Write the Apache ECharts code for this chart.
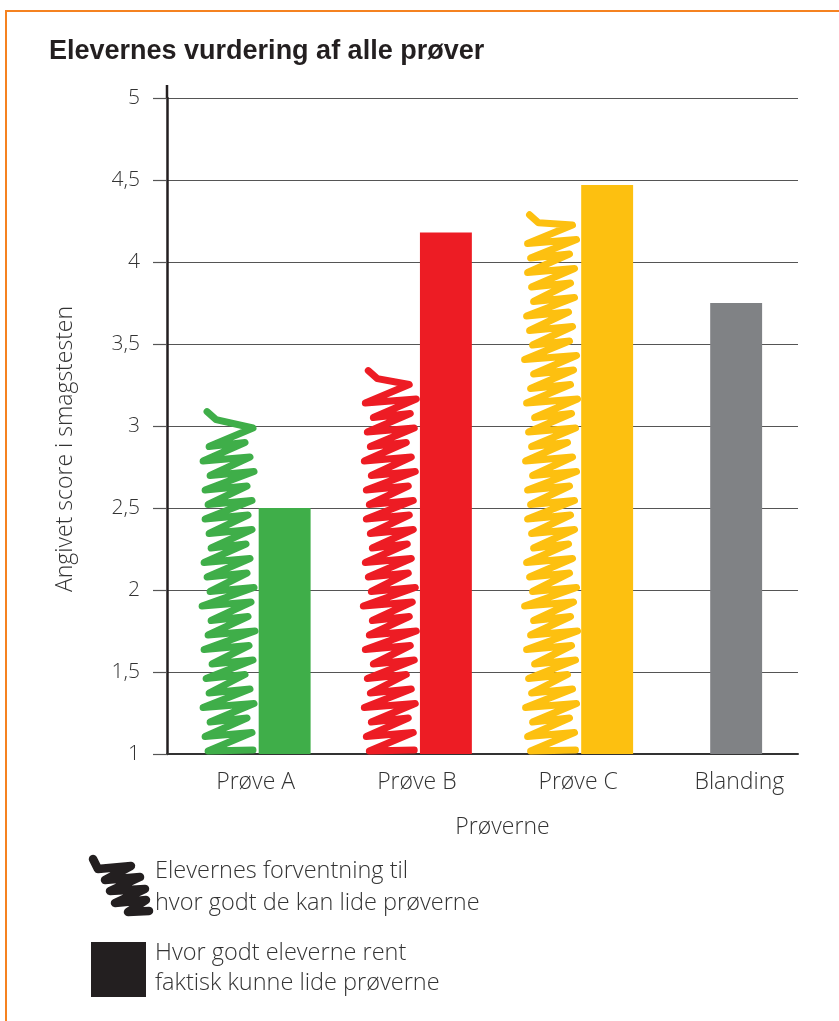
<!DOCTYPE html>
<html>
<head>
<meta charset="utf-8">
<script src="https://cdn.jsdelivr.net/npm/echarts@6/dist/echarts.min.js"></script>
<style>
  html, body { margin: 0; padding: 0; background: #ffffff; }
  #chart { width: 839px; height: 1021px; }
</style>
</head>
<body>
<div id="chart"></div>
<script>
// Categories and scores (scale 1–5)
const categories = ['Prøve A', 'Prøve B', 'Prøve C', 'Blanding'];
const expected = [3.1, 3.35, 4.3, null];      // elevernes forventning
const actual = [2.5, 4.18, 4.47, 3.75];       // faktisk vurdering
const yTickLabels = ['1', '1,5', '2', '2,5', '3', '3,5', '4', '4,5', '5'];

const barColors = ['#3fae49', '#ed1c24', '#fdc010', '#808285'];
const ink = '#231f20';
const textColor = '#333333';
const fontFamily = '"Open Sans", "Noto Sans", sans-serif';

// Small fixed wobble offsets that make the zigzag look hand drawn
const wobbleLeft = [0, -3, 2, -5, 1, -2, 4, -4, 0, 3, -6, 2, -1, -4, 3, 1, -3];
const wobbleRight = [2, -3, 4, 0, -5, 3, -1, 5, -2, 1, 4, -3, 0, -4, 2, -2];

const chart = echarts.init(document.getElementById('chart'));

function actualBar(params, api) {
  const i = api.value(0);
  const v = api.value(1);
  const band = api.size([1, 0])[0];
  const top = api.coord([i, v]);
  const base = api.coord([i, 1]);
  const w = band * 0.322;
  const cx = top[0] + (expected[i] != null ? band * 0.18 : -band * 0.02);
  return {
    type: 'rect',
    shape: { x: cx - w / 2, y: top[1], width: w, height: base[1] - top[1] },
    style: { fill: barColors[i] }
  };
}

// Z-shaped zigzag: near-flat strokes joined by diagonals, from the baseline up to the value
function scribble(params, api) {
  const i = api.value(0);
  const v = api.value(1);
  const band = api.size([1, 0])[0];
  const top = api.coord([i, v]);
  const base = api.coord([i, 1]);
  const cx = top[0] - band * 0.165;
  const half = band * 0.13;
  const step = 14.5;
  const tilt = 4;
  const pts = [];
  pts.push([cx + half + 3, base[1] - 4]);
  let y = base[1] - 3;
  let k = 0;
  while (y - step - tilt > top[1] + 10) {
    pts.push([cx - half + wobbleLeft[k % wobbleLeft.length], y]);
    pts.push([cx + half + wobbleRight[k % wobbleRight.length], y - step - tilt]);
    y -= step;
    k++;
  }
  // hook at the top
  pts.push([cx - half + 8, top[1] + 10]);
  pts.push([cx - half - 1, top[1] + 2]);
  return {
    type: 'polyline',
    shape: { points: pts },
    style: {
      stroke: barColors[i],
      fill: null,
      lineWidth: 7,
      lineCap: 'round',
      lineJoin: 'round'
    }
  };
}

const option = {
  animation: false,
  backgroundColor: '#ffffff',
  title: {
    text: 'Elevernes vurdering af alle prøver',
    left: 44,
    top: 33,
    textStyle: {
      fontFamily: '"Liberation Sans Narrow", "Liberation Sans", sans-serif',
      fontWeight: 'bold',
      fontSize: 27,
      color: ink
    }
  },
  grid: [
    { left: 167, right: 41, top: 98, bottom: 267 },
    { left: 175, right: 19, top: 98, bottom: 267 }
  ],
  xAxis: [
    {
      type: 'category',
      gridIndex: 0,
      data: categories,
      axisLine: { show: true, lineStyle: { color: '#333333', width: 2 } },
      axisTick: { show: false },
      axisLabel: { show: false },
      splitLine: { show: false }
    },
    {
      type: 'category',
      gridIndex: 1,
      data: categories,
      axisLine: { show: false },
      axisTick: { show: false },
      axisLabel: {
        margin: 17,
        fontFamily: fontFamily, fontWeight: 300, fontSize: 23, color: textColor
      },
      splitLine: { show: false },
      name: 'Prøverne',
      nameLocation: 'middle',
      nameGap: 62,
      nameTextStyle: {
        fontFamily: fontFamily, fontWeight: 300, fontSize: 23, color: textColor,
        padding: [0, 0, 0, 10]
      }
    }
  ],
  yAxis: [
    {
      type: 'value',
      gridIndex: 0,
      min: 1,
      max: 5,
      interval: 0.5,
      axisLine: { show: true, lineStyle: { color: ink, width: 2.5 } },
      axisTick: { show: true, inside: false, length: 14, lineStyle: { color: '#555555', width: 1.2 } },
      splitLine: { show: true, lineStyle: { color: '#555555', width: 1.2 } },
      axisLabel: {
        margin: 27,
        fontFamily: fontFamily, fontWeight: 300, fontSize: 21, color: textColor,
        formatter: function (val) { return yTickLabels[Math.round((val - 1) * 2)]; }
      }
    },
    {
      type: 'value',
      gridIndex: 1,
      min: 1,
      max: 5,
      show: false
    }
  ],
  series: [
    {
      name: 'Elevernes forventning til hvor godt de kan lide prøverne',
      type: 'custom',
      xAxisIndex: 1,
      yAxisIndex: 1,
      renderItem: scribble,
      data: expected.map((v, i) => [i, v]).filter(d => d[1] != null),
      z: 3
    },
    {
      name: 'Hvor godt eleverne rent faktisk kunne lide prøverne',
      type: 'custom',
      xAxisIndex: 1,
      yAxisIndex: 1,
      renderItem: actualBar,
      data: actual.map((v, i) => [i, v]),
      z: 2
    }
  ],
  graphic: [
    // orange frame
    {
      type: 'rect',
      shape: { x: 6, y: 11, width: 900, height: 1100 },
      style: { fill: null, stroke: '#f58220', lineWidth: 2 },
      silent: true
    },
    // axis line overshoot above the top tick
    {
      type: 'line',
      shape: { x1: 167, y1: 85, x2: 167, y2: 98 },
      style: { stroke: ink, lineWidth: 2.5 }
    },
    // y axis title
    {
      type: 'text',
      x: 65,
      y: 449,
      rotation: Math.PI / 2,
      style: {
        text: 'Angivet score i smagstesten',
        fontFamily: fontFamily, fontWeight: 300, fontSize: 23,
        fill: textColor, align: 'center', verticalAlign: 'middle'
      }
    },
    // legend: scribble symbol
    {
      type: 'polyline',
      shape: {
        points: [[93, 859], [98, 869], [131, 866], [105, 880], [140, 877],
                 [110, 891], [145, 889], [115, 903], [146, 900], [128, 912], [149, 911]]
      },
      style: { stroke: ink, fill: null, lineWidth: 8.5, lineCap: 'round', lineJoin: 'round' }
    },
    {
      type: 'text',
      x: 155,
      y: 871,
      style: {
        text: 'Elevernes forventning til',
        fontFamily: fontFamily, fontWeight: 300, fontSize: 23.5, fill: textColor,
        verticalAlign: 'middle'
      }
    },
    {
      type: 'text',
      x: 155,
      y: 903,
      style: {
        text: 'hvor godt de kan lide prøverne',
        fontFamily: fontFamily, fontWeight: 300, fontSize: 23.5, fill: textColor,
        verticalAlign: 'middle'
      }
    },
    // legend: solid bar symbol
    {
      type: 'rect',
      shape: { x: 91, y: 942, width: 55, height: 55 },
      style: { fill: ink }
    },
    {
      type: 'text',
      x: 155,
      y: 953,
      style: {
        text: 'Hvor godt eleverne rent',
        fontFamily: fontFamily, fontWeight: 300, fontSize: 23.5, fill: textColor,
        verticalAlign: 'middle'
      }
    },
    {
      type: 'text',
      x: 155,
      y: 983,
      style: {
        text: 'faktisk kunne lide prøverne',
        fontFamily: fontFamily, fontWeight: 300, fontSize: 23.5, fill: textColor,
        verticalAlign: 'middle'
      }
    }
  ]
};

chart.setOption(option);
</script>
</body>
</html>
